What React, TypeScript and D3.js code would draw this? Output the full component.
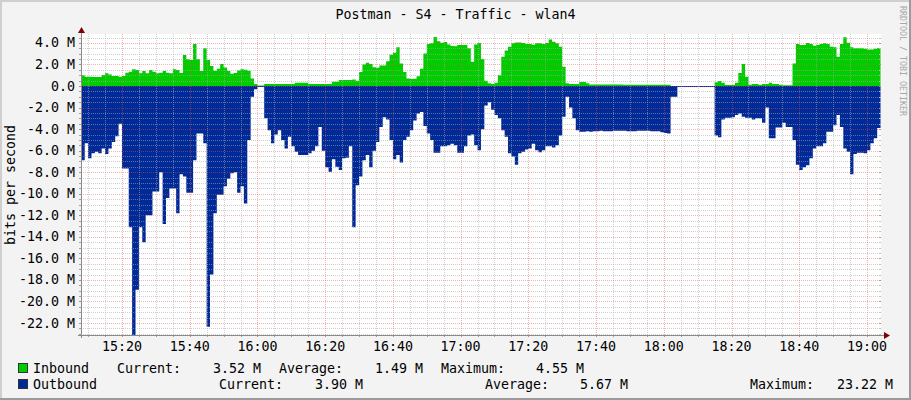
import React from 'react';
import * as d3 from 'd3';

const TITLE = 'Postman - S4 - Traffic - wlan4';
const Y_LABEL = 'bits per second';
const WATERMARK = 'RRDTOOL / TOBI OETIKER';

// one sample per minute starting 15:08 (values in Mbit/s)
const inbound = [
  1.0, 0.87, 0.87, 0.84, 0.84, 0.84, 1.02, 1.18, 1.08, 0.93,
  0.93, 0.87, 0.93, 1.24, 1.33, 1.55, 1.49, 1.18, 1.39, 1.18,
  1.49, 1.33, 1.18, 1.24, 1.39, 1.24, 1.18, 1.55, 1.49, 1.2,
  2.88, 2.48, 2.41, 3.9, 2.48, 1.39, 3.5, 2.41, 1.86, 1.42,
  1.6, 2.04, 1.73, 1.4, 1.15, 1.2, 1.45, 1.55, 1.5, 1.42,
  0.7, 0.19, 0.05, 0.05, 0.19, 0.19, 0.19, 0.19, 0.19, 0.19,
  0.19, 0.19, 0.19, 0.31, 0.31, 0.31, 0.31, 0.19, 0.19, 0.19,
  0.19, 0.19, 0.19, 0.19, 0.4, 0.4, 0.56, 0.56, 0.56, 0.56,
  0.6, 0.5, 1.3, 2.0, 2.15, 2.05, 1.75, 1.7, 1.9, 1.9,
  2.3, 2.9, 3.1, 3.59, 2.1, 1.3, 0.7, 0.65, 0.68, 0.9,
  1.6, 3.03, 3.9, 3.96, 4.55, 4.15, 4.02, 4.08, 3.85, 3.72,
  3.7, 3.8, 3.8, 3.8, 3.5, 2.26, 3.85, 4.0, 2.5, 0.5,
  0.25, 0.19, 0.31, 1.0, 2.72, 3.3, 3.65, 3.96, 4.05, 4.05,
  4.0, 3.9, 3.9, 3.84, 3.96, 3.96, 3.9, 4.0, 4.33, 4.12,
  3.96, 3.65, 1.8, 0.25, 0.19, 0.19, 0.19, 0.37, 0.37, 0.25,
  0.15, 0.15, 0.15, 0.15, 0.15, 0.15, 0.15, 0.15, 0.15, 0.15,
  0.13, 0.13, 0.13, 0.13, 0.13, 0.13, 0.13, 0.13, 0.13, 0.13,
  0.13, 0.13, 0.13, 0.13,
  0, 0, 0, 0, 0, 0, 0, 0, 0, 0, 0, 0, 0,
  0.34, 0.46, 0.3, 0.1, 0.1, 0.1, 0.3, 1.2, 2.04, 0.87, 0.12, 0.19, 0.19,
  0.1, 0.19, 0.19, 0.31, 0.19, 0.19, 0.12, 0.08, 0.08, 0.08,
  2.1, 3.9, 3.8, 3.8, 4.0, 3.9, 3.75, 3.8, 3.9, 3.96,
  3.9, 3.65, 3.59, 2.72, 3.9, 4.52, 4.02, 3.59, 3.5, 3.5,
  3.5, 3.45, 3.4, 3.4, 3.45, 3.52,
];

const outbound = [
  6.9, 5.3, 6.7, 6.25, 6.1, 6.25, 5.8, 6.3, 5.8, 5.2,
  4.65, 3.5, 7.65, 7.65, 13.1, 23.2, 18.9, 13.1, 14.5, 12.0,
  12.0, 9.8, 9.8, 8.0, 12.8, 10.4, 9.5, 9.5, 11.8, 8.2,
  8.4, 9.9, 9.9, 6.9, 4.4, 4.4, 5.3, 22.35, 17.5, 11.8,
  10.1, 10.1, 9.3, 8.6, 8.1, 8.0, 9.9, 9.3, 10.9, 5.0,
  1.0, 0.3, 0.1, 0.1, 3.0, 4.1, 5.3, 4.5, 4.1, 5.0,
  5.8, 4.7, 5.6, 6.1, 6.4, 6.4, 6.4, 6.25, 6.0, 5.6,
  3.8, 6.0, 7.55, 7.95, 6.8, 7.5, 7.8, 6.7, 6.65, 5.6,
  13.1, 9.2, 8.4, 6.9, 6.4, 7.55, 6.0, 5.2, 3.8, 2.9,
  3.1, 5.0, 6.8, 6.4, 7.1, 5.0, 4.7, 4.1, 3.2, 2.55,
  2.4, 3.7, 4.4, 5.0, 6.2, 6.2, 5.6, 5.6, 5.5, 5.35,
  5.5, 6.2, 6.2, 5.6, 4.6, 4.5, 5.5, 5.95, 4.0, 1.8,
  1.5, 2.2, 2.7, 3.0, 4.1, 4.7, 6.25, 6.55, 7.3, 6.25,
  6.1, 5.9, 5.8, 5.35, 5.95, 6.15, 5.95, 5.6, 5.6, 5.7,
  5.5, 4.6, 2.85, 1.0, 2.0, 3.0, 4.1, 4.25, 4.25, 4.2,
  4.25, 4.2, 4.2, 4.15, 4.2, 4.2, 4.2, 4.15, 4.15, 4.15, 4.15,
  4.2, 4.2, 4.2, 4.15, 4.15, 4.15, 4.15, 4.2, 4.2, 4.2, 4.3,
  4.35, 4.4, 1.0, 1.0,
  0, 0, 0, 0, 0, 0, 0, 0, 0, 0, 0,
  4.6, 4.75, 3.1, 2.95, 2.95, 2.9, 2.7, 2.55, 2.85, 2.95,
  2.95, 3.1, 3.0, 3.0, 3.4, 2.0, 4.85, 4.85, 3.85, 3.85, 3.4, 3.8, 3.8,
  5.0, 7.3, 7.8, 7.55, 7.35, 6.7, 5.8, 5.6, 5.6, 5.3,
  4.25, 4.25, 3.65, 2.7, 3.8, 5.8, 6.1, 8.2, 6.3, 6.2,
  6.2, 6.25, 5.95, 5.3, 4.85, 3.9,
];

const yTickValues = [4, 2, 0, -2, -4, -6, -8, -10, -12, -14, -16, -18, -20, -22];

const legendRows = [
  { name: 'Inbound', color: '#00CC00', current: '3.52 M', average: '1.49 M', maximum: '4.55 M' },
  { name: 'Outbound', color: '#002A97', current: '3.90 M', average: '5.67 M', maximum: '23.22 M' },
];

const W = 911;
const H = 400;
const PL = 81, PR = 881, PT = 34, PB = 335;
const FONT = '"DejaVu Sans Mono", "Liberation Mono", monospace';

const day = (h: number, m: number, s = 0) => new Date(2024, 0, 1, h, m, s);

export default function App() {
  const x = d3.scaleTime().domain([day(15, 7, 54), day(19, 4, 8)]).range([PL, PR]);
  const y = d3.scaleLinear().domain([-23.11, 4.83]).range([PB, PT]);

  const start = day(15, 8);
  const pts = (arr: number[]) => {
    const p = arr.map((v, i) => ({ t: d3.timeMinute.offset(start, i), v }));
    p.push({ t: d3.timeMinute.offset(start, arr.length), v: arr[arr.length - 1] });
    return p;
  };
  const inPts = pts(inbound);
  const outPts = pts(outbound);

  const inArea = d3.area<{ t: Date; v: number }>()
    .x(d => x(d.t)).y0(y(0)).y1(d => y(d.v)).curve(d3.curveStepAfter);
  const outArea = d3.area<{ t: Date; v: number }>()
    .x(d => x(d.t)).y0(y(0)).y1(d => y(-d.v)).curve(d3.curveStepAfter);

  const minorX = d3.timeMinute.every(5)!.range(x.domain()[0], x.domain()[1]);
  const majorX = d3.timeMinute.every(20)!.range(x.domain()[0], x.domain()[1]);
  const minorY = d3.range(-46, 10).map(k => k * 0.5).filter(v => v >= -23.11 && v <= 4.83);
  const fmtT = d3.timeFormat('%H:%M');

  return (
    <svg width={W} height={H} style={{ position: 'fixed', left: 0, top: 0, display: 'block' }}
      fontFamily={FONT}>
      <defs>
        <clipPath id="plotclip">
          <rect x={PL} y={PT} width={PR - PL} height={PB - PT} />
        </clipPath>
      </defs>
      <rect x={0} y={0} width={W} height={H} fill="#F3F3F3" />
      {/* 3D frame */}
      <rect x={0} y={0} width={W} height={2} fill="#CFCFCF" />
      <rect x={0} y={0} width={2} height={H} fill="#CFCFCF" />
      <rect x={0} y={H - 2} width={W} height={2} fill="#9B9B9B" />
      <rect x={W - 2} y={0} width={2} height={H} fill="#9B9B9B" />

      <rect x={PL} y={PT} width={PR - PL} height={PB - PT} fill="#FFFFFF" />

      <g clipPath="url(#plotclip)">
        <path d={inArea(inPts) || ''} fill="#00CC00" />
        <path d={outArea(outPts) || ''} fill="#002A97" />
        <line x1={PL} x2={PR} y1={y(0) + 0.5} y2={y(0) + 0.5} stroke="#002A97" strokeWidth={1} />
      </g>

      {/* grid */}
      <g shapeRendering="crispEdges">
        {minorY.filter(v => Math.abs(v % 2) > 1e-9).map(v => (
          <line key={'my' + v} x1={PL} x2={PR} y1={Math.round(y(v)) + 0.5} y2={Math.round(y(v)) + 0.5}
            stroke="rgba(170,170,170,0.55)" strokeDasharray="1,1" />
        ))}
        {minorX.filter(t => t.getMinutes() % 20 !== 0).map(t => (
          <line key={'mx' + t.getTime()} x1={Math.round(x(t)) + 0.5} x2={Math.round(x(t)) + 0.5} y1={PT} y2={PB}
            stroke="rgba(170,170,170,0.55)" strokeDasharray="1,1" />
        ))}
        {yTickValues.map(v => (
          <line key={'My' + v} x1={PL} x2={PR} y1={Math.round(y(v)) + 0.5} y2={Math.round(y(v)) + 0.5}
            stroke="rgba(240,80,80,0.45)" strokeDasharray="1,1" />
        ))}
        {majorX.map(t => (
          <line key={'Mx' + t.getTime()} x1={Math.round(x(t)) + 0.5} x2={Math.round(x(t)) + 0.5} y1={PT} y2={PB}
            stroke="rgba(240,80,80,0.45)" strokeDasharray="1,1" />
        ))}
        {/* axis ticks */}
        {minorY.map(v => (
          <line key={'ty' + v} x1={PL - 2} x2={PL} y1={Math.round(y(v)) + 0.5} y2={Math.round(y(v)) + 0.5}
            stroke={Math.abs(v % 2) < 1e-9 ? '#D08080' : '#A0A0A0'} />
        ))}
        {minorY.map(v => (
          <line key={'ry' + v} x1={PR - 2} x2={PR} y1={Math.round(y(v)) + 0.5} y2={Math.round(y(v)) + 0.5}
            stroke={Math.abs(v % 2) < 1e-9 ? '#D08080' : '#C0C0C0'} />
        ))}
        {minorX.map(t => (
          <line key={'tx' + t.getTime()} x1={Math.round(x(t)) + 0.5} x2={Math.round(x(t)) + 0.5} y1={PB} y2={PB + 2}
            stroke={t.getMinutes() % 20 === 0 ? '#D08080' : '#A0A0A0'} />
        ))}
        {/* axes */}
        <line x1={PL - 3} x2={PR + 3} y1={PB + 0.5} y2={PB + 0.5} stroke="#8A8A8A" />
        <line x1={PL + 0.5} x2={PL + 0.5} y1={PT - 3} y2={PB + 3} stroke="#8A8A8A" />
      </g>
      <polygon points={`${PL - 3},${PT - 1} ${PL + 4},${PT - 1} ${PL + 0.5},${PT - 7}`} fill="#7F0000" />
      <polygon points={`${PR + 3},${PB - 3} ${PR + 3},${PB + 4} ${PR + 9},${PB + 0.5}`} fill="#7F0000" />

      {/* y labels */}
      {yTickValues.map(v => (
        <text key={'yl' + v} x={75} y={y(v) + 4.5} textAnchor="end" fontSize={13.3} fill="#000">
          {v === 0 ? '0.0' : `${v.toFixed(1)} M`}
        </text>
      ))}
      {/* x labels */}
      {majorX.map(t => (
        <text key={'xl' + t.getTime()} x={x(t)} y={351} textAnchor="middle" fontSize={13.3} fill="#000">
          {fmtT(t)}
        </text>
      ))}

      <text x={455.5} y={19} textAnchor="middle" fontSize={13.3} fill="#000">{TITLE}</text>
      <text transform="translate(15,185) rotate(-90)" textAnchor="middle" fontSize={13.3} fill="#000">{Y_LABEL}</text>
      <text transform="translate(900,6) rotate(90)" fontSize={8.3} fill="#A8A8A8">{WATERMARK}</text>

      {/* legend */}
      {legendRows.map((r, i) => {
        const by = 373 + i * 16;
        const pos = i === 0
          ? { cur: 117, curV: 261, avg: 279, avgV: 423, max: 441, maxV: 584 }
          : { cur: 219, curV: 363, avg: 485, avgV: 628, max: 750, maxV: 893 };
        return (
          <g key={r.name} fontSize={13.3} fill="#000">
            <rect x={18.5} y={by - 9.5} width={9} height={9} fill={r.color} stroke="#333" strokeWidth={1} />
            <text x={33} y={by}>{r.name}</text>
            <text x={pos.cur} y={by}>Current:</text>
            <text x={pos.curV} y={by} textAnchor="end">{r.current}</text>
            <text x={pos.avg} y={by}>Average:</text>
            <text x={pos.avgV} y={by} textAnchor="end">{r.average}</text>
            <text x={pos.max} y={by}>Maximum:</text>
            <text x={pos.maxV} y={by} textAnchor="end">{r.maximum}</text>
          </g>
        );
      })}
    </svg>
  );
}
